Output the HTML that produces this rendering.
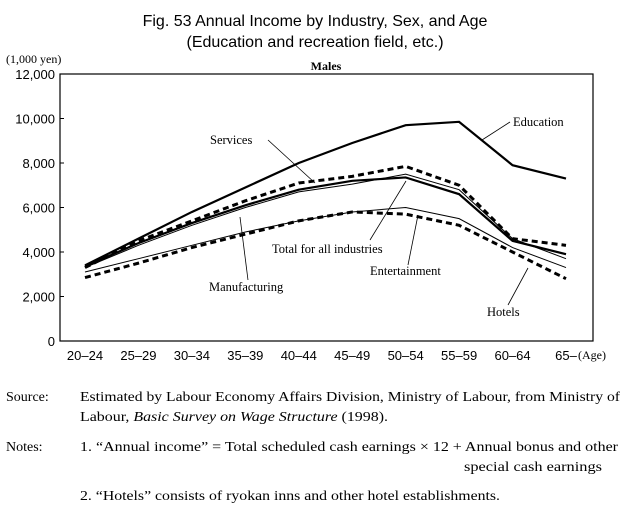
<!DOCTYPE html>
<html><head><meta charset="utf-8"><style>
body{margin:0;width:630px;height:512px;background:#fff;overflow:hidden;font-family:"Liberation Serif",serif;}
svg text{font-family:"Liberation Serif",serif;}
</style></head><body>
<svg id="c" width="630" height="512">
<text x="315" y="26" text-anchor="middle" font-size="16" style="font-family:'Liberation Sans',sans-serif">Fig. 53  Annual Income by Industry, Sex, and Age</text>
<text x="315" y="47" text-anchor="middle" font-size="16" style="font-family:'Liberation Sans',sans-serif">(Education and recreation field, etc.)</text>
<text x="6" y="63" font-size="12">(1,000 yen)</text>
<text x="326" y="70" text-anchor="middle" font-size="12" font-weight="bold">Males</text>
<g id="axes"></g><g id="series"></g>
<g font-size="12.5">
<text x="210" y="144">Services</text>
<line x1="268" y1="140" x2="315" y2="183" stroke="#000" stroke-width="0.8"/>
<text x="513" y="126">Education</text>
<line x1="510" y1="122" x2="482" y2="140" stroke="#000" stroke-width="0.8"/>
<text x="272" y="253">Total for all industries</text>
<line x1="370" y1="240" x2="406" y2="181" stroke="#000" stroke-width="0.8"/>
<text x="370" y="275">Entertainment</text>
<line x1="408" y1="265" x2="418" y2="215" stroke="#000" stroke-width="0.8"/>
<text x="209" y="291">Manufacturing</text>
<line x1="248" y1="280" x2="240" y2="217" stroke="#000" stroke-width="0.8"/>
<text x="487" y="316">Hotels</text>
<line x1="508" y1="305" x2="528" y2="268" stroke="#000" stroke-width="0.8"/>
</g>
<g font-size="14">
<text x="6" y="401">Source:</text>
<text x="80" y="401" textLength="540" lengthAdjust="spacingAndGlyphs">Estimated by Labour Economy Affairs Division, Ministry of Labour, from Ministry of</text>
<text x="80" y="421" textLength="308" lengthAdjust="spacingAndGlyphs">Labour, <tspan font-style="italic">Basic Survey on Wage Structure</tspan> (1998).</text>
<text x="6" y="451">Notes:</text>
<text x="80" y="451" textLength="538" lengthAdjust="spacingAndGlyphs">1.  “Annual income” = Total scheduled cash earnings × 12 +  Annual bonus and other</text>
<text x="464" y="471" textLength="138" lengthAdjust="spacingAndGlyphs">special cash earnings</text>
<text x="80" y="500" textLength="420" lengthAdjust="spacingAndGlyphs">2.  “Hotels” consists of ryokan inns and other hotel establishments.</text>
</g>
</svg>
<script>
const categories=["20–24","25–29","30–34","35–39","40–44","45–49","50–54","55–59","60–64","65–"];
const yTicks=[0,2000,4000,6000,8000,10000,12000];
const education=[3400,4600,5800,6900,8000,8900,9700,9850,7900,7300];
const services=[3300,4500,5400,6300,7100,7400,7850,7000,4600,4300];
const manufacturing=[3350,4400,5300,6100,6800,7200,7350,6600,4500,3900];
const totalAll=[3300,4300,5200,6000,6700,7050,7500,6800,4600,3700];
const entertainment=[3100,3700,4300,4900,5400,5800,6000,5500,4200,3300];
const hotels=[2850,3500,4200,4800,5400,5800,5700,5200,4000,2800];
const L=60,R=593,T=74,B=341;
const x=i=>85+i*(566-85)/(categories.length-1);
const y=v=>B-(v/12000)*(B-T);
const ns="http://www.w3.org/2000/svg";
function mk(t,a,p){const e=document.createElementNS(ns,t);for(const k in a)e.setAttribute(k,a[k]);p.appendChild(e);return e;}
const ax=document.getElementById('axes'),se=document.getElementById('series');
const box=mk('rect',{x:L,y:T,width:R-L,height:B-T,fill:'none',stroke:'#000','stroke-width':1.2},ax);


yTicks.forEach(v=>{
 const tk=mk('line',{x1:L,x2:L+4,y1:y(v),y2:y(v),stroke:'#000'},ax);
 
 
 const t=mk('text',{x:L-5,y:y(v)+5,'text-anchor':'end','font-size':13,style:"font-family:'Liberation Sans',sans-serif"},ax);
 t.textContent=v.toLocaleString('en-US');
 
 
});
categories.forEach((c,i)=>{
 const t=mk('text',{x:x(i),y:360,'text-anchor':'middle','font-size':13,style:"font-family:'Liberation Sans',sans-serif"},ax);
 t.textContent=c;
 
 
});
const ag=mk('text',{x:578,y:359,'font-size':12},ax);ag.textContent='(Age)';


const defs=[[entertainment,1,null,'entertainment-line'],[totalAll,1,null,'total-line'],[manufacturing,2.2,null,'manufacturing-line'],[education,2.2,null,'education-line'],[services,3,'6,4','services-line'],[hotels,3,'6,4','hotels-line']];
defs.forEach(([d,w,da,n])=>{
 const p=mk('polyline',{points:d.map((v,i)=>x(i)+','+y(v)).join(' '),fill:'none',stroke:'#000','stroke-width':w},se);
 if(da)p.setAttribute('stroke-dasharray',da);
 
 
});
</script>
</body></html>
